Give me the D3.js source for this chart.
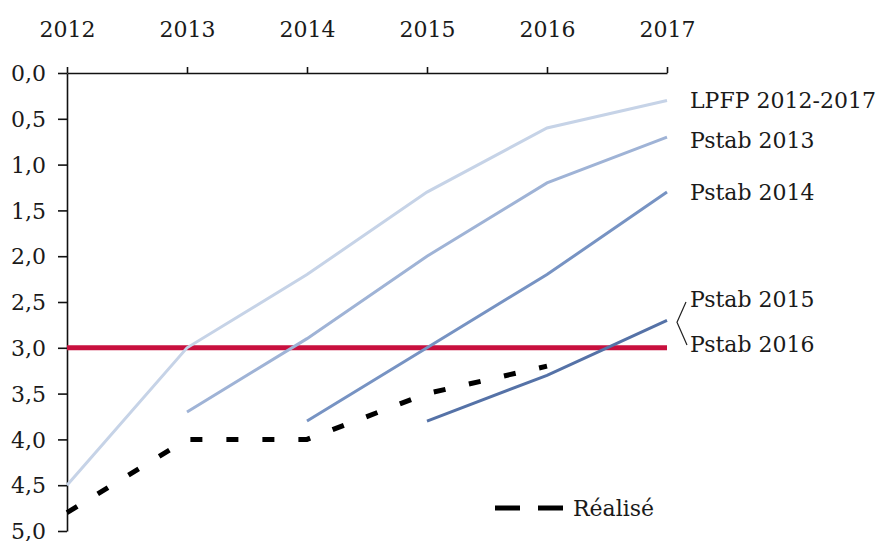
<!DOCTYPE html>
<html>
<head>
<meta charset="utf-8">
<script src="https://cdn.jsdelivr.net/npm/d3@7"></script>
<style>
  body { margin: 0; background: #fff; }
  svg text { font-family: "DejaVu Serif", serif; fill: #1a1a1a; }
</style>
</head>
<body>
<div id="vis"></div>
<script>
// Data
var years = [2012, 2013, 2014, 2015, 2016, 2017];
var yTicks = [0, 0.5, 1, 1.5, 2, 2.5, 3, 3.5, 4, 4.5, 5];

var lpfp = [4.5, 3.0, 2.2, 1.3, 0.6, 0.3];
var pstab2013 = [null, 3.7, 2.9, 2.0, 1.2, 0.7];
var pstab2014 = [null, null, 3.8, 3.0, 2.2, 1.3];
var pstab2015 = [null, null, null, 3.8, 3.3, 2.7];
var realise = [4.8, 4.0, 4.0, 3.5, 3.2, null];
var seuil = [3, 3, 3, 3, 3, 3];

var width = 880, height = 541;
var margin = { top: 73, right: 213, bottom: 10, left: 67 };
var drawWidth = width - margin.left - margin.right,
    drawHeight = 531 - margin.top;
var fontFam = '"DejaVu Serif", serif';
var fontSize = '22px';

var svg = d3.select('#vis').append('svg')
    .attr('width', width)
    .attr('height', height);

var g = svg.append('g')
    .attr('transform', 'translate(' + margin.left + ',' + margin.top + ')');

var xScale = d3.scaleLinear().domain([2012, 2017]).range([0, drawWidth]);
var yScale = d3.scaleLinear().domain([0, 5]).range([0, drawHeight]);

var fmt = function(d) { return d3.format('.1f')(d).replace('.', ','); };

// axes
var xAxis = d3.axisTop(xScale).tickValues(years).tickFormat(d3.format('d')).tickSize(6).tickSizeOuter(0);
var yAxis = d3.axisLeft(yScale).tickValues(yTicks).tickFormat(fmt).tickSize(9).tickSizeOuter(0);

var xg = g.append('g').call(xAxis).attr('font-family', null);
var yg = g.append('g').call(yAxis).attr('font-family', null);

[xg, yg].forEach(function(a) {
    a.select('.domain').attr('stroke', '#111').attr('stroke-width', 1.6);
    a.selectAll('.tick line').attr('stroke', '#111').attr('stroke-width', 1.6);
    a.selectAll('text').style('font-family', fontFam)
        .style('font-size', fontSize).attr('fill', '#1a1a1a');
});
xg.selectAll('text').attr('y', -36);
yg.selectAll('text').attr('x', -21).attr('dy', '0.35em');

var line = d3.line()
    .defined(function(d) { return d.v !== null; })
    .x(function(d) { return xScale(d.year); })
    .y(function(d) { return yScale(d.v); });

var toPts = function(arr) {
    return arr.map(function(v, i) { return { year: years[i], v: v }; });
};

var series = [
    { values: lpfp, color: '#c6d3e7', w: 3 },
    { values: pstab2013, color: '#9fb3d6', w: 3 },
    { values: pstab2014, color: '#7793c3', w: 3 },
    { values: pstab2015, color: '#5572a7', w: 3 }
];

// red 3% line
g.append('path')
    .datum(toPts(seuil))
    .attr('d', line)
    .attr('fill', 'none')
    .attr('stroke', '#c8103e')
    .attr('stroke-width', 5);

series.forEach(function(s) {
    g.append('path')
        .datum(toPts(s.values))
        .attr('d', line)
        .attr('fill', 'none')
        .attr('stroke', s.color)
        .attr('stroke-width', s.w);
});

g.append('path')
    .datum(toPts(realise))
    .attr('d', line)
    .attr('fill', 'none')
    .attr('stroke', '#000')
    .attr('stroke-width', 5)
    .attr('stroke-dasharray', '12,24');

// labels on the right
var labels = [
    { text: 'LPFP 2012-2017', v: 0.3 },
    { text: 'Pstab 2013', v: 0.74 },
    { text: 'Pstab 2014', v: 1.3 },
    { text: 'Pstab 2015', v: 2.47 },
    { text: 'Pstab 2016', v: 2.96 }
];
g.selectAll('.lbl').data(labels).enter().append('text')
    .attr('class', 'lbl')
    .attr('x', drawWidth + 23)
    .attr('y', function(d) { return yScale(d.v); })
    .attr('dy', '0.35em')
    .style('font-family', fontFam)
    .style('font-size', fontSize)
    .text(function(d) { return d.text; });

// bracket for Pstab 2015 / 2016
g.append('path')
    .attr('d', 'M' + (drawWidth + 19) + ',' + yScale(2.5) +
               'L' + (drawWidth + 10) + ',' + yScale(2.72) +
               'L' + (drawWidth + 20) + ',' + yScale(2.97))
    .attr('fill', 'none')
    .attr('stroke', '#222')
    .attr('stroke-width', 1.2);

// legend for Réalisé
var lg = svg.append('g').attr('transform', 'translate(495,508)');
lg.append('line')
    .attr('x1', 0).attr('x2', 68).attr('y1', 0).attr('y2', 0)
    .attr('stroke', '#000').attr('stroke-width', 5)
    .attr('stroke-dasharray', '25,18');
lg.append('text')
    .attr('x', 78).attr('dy', '0.35em')
    .style('font-family', fontFam)
    .style('font-size', fontSize)
    .text('Réalisé');
</script>
</body>
</html>
